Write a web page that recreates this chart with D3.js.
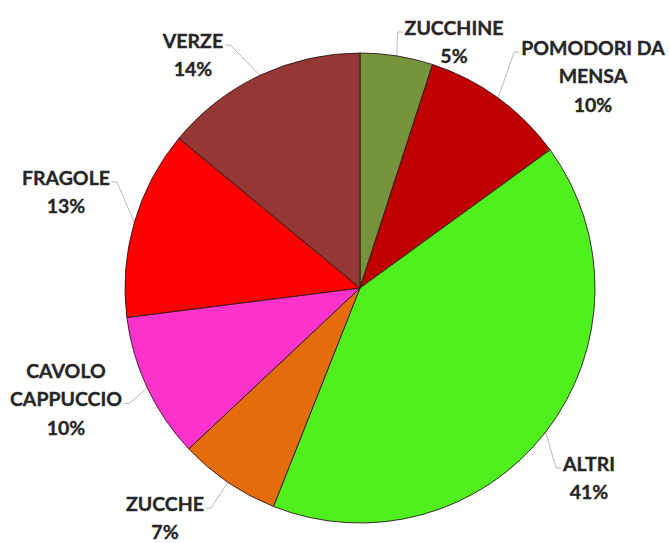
<!DOCTYPE html>
<html>
<head>
<meta charset="utf-8">
<script src="https://cdn.jsdelivr.net/npm/d3@7"></script>
<style>
  html, body { margin: 0; padding: 0; background: #fff; }
  svg { display: block; }
  .lbl { font-family: Lato, "Open Sans", sans-serif; font-weight: 700; font-size: 19.5px; fill: #262626; stroke: #262626; stroke-width: 0.35px; }
</style>
</head>
<body>
<svg id="chart" width="670" height="543"></svg>
<script>
// Crop shares (percent), clockwise from 12 o'clock
const categories = ["ZUCCHINE", "POMODORI DA MENSA", "ALTRI", "ZUCCHE", "CAVOLO CAPPUCCIO", "FRAGOLE", "VERZE"];
const values = [5, 10, 41, 7, 10, 13, 14];
const labelLines = [["ZUCCHINE"], ["POMODORI DA", "MENSA"], ["ALTRI"], ["ZUCCHE"], ["CAVOLO", "CAPPUCCIO"], ["FRAGOLE"], ["VERZE"]];
const sliceColors = ["#77933C", "#C00000", "#50F01E", "#E46C0A", "#FF33CC", "#FF0000", "#953735"];

// Label placement: centre x, first-line y, line the leader attaches to
const labelLayout = [
  { x: 454, y: 27,  attach: 0 },
  { x: 593, y: 47,  attach: 0 },
  { x: 589, y: 463, attach: 0 },
  { x: 165, y: 503, attach: 0 },
  { x: 66,  y: 370, attach: 1 },
  { x: 66,  y: 177, attach: 0 },
  { x: 193, y: 40,  attach: 0 }
];

const cx = 360, cy = 288, radius = 235, lineGap = 28.5;

const svg = d3.select("#chart");
const g = svg.append("g").attr("transform", `translate(${cx},${cy})`);

const pie = d3.pie().sort(null).value(d => d.value);
const arcs = pie(categories.map((c, i) => ({ name: c, value: values[i], i })));
const arc = d3.arc().innerRadius(0).outerRadius(radius);
const edgeArc = d3.arc().innerRadius(radius).outerRadius(radius);

g.selectAll("path.slice")
  .data(arcs)
  .join("path")
  .attr("class", "slice")
  .attr("d", arc)
  .attr("fill", d => sliceColors[d.data.i])
  .attr("stroke", "#2a1a1a")
  .attr("stroke-width", 0.9)
  .attr("stroke-linejoin", "round");

// Labels with name lines and a percentage line
const labels = svg.append("g");
arcs.forEach(d => {
  const i = d.data.i;
  const lay = labelLayout[i];
  const lines = labelLines[i].concat([d3.format(".0f")(d.data.value) + "%"]);
  const tg = labels.append("g");
  const texts = lines.map((t, k) =>
    tg.append("text")
      .attr("class", "lbl")
      .attr("x", lay.x)
      .attr("y", lay.y + k * lineGap)
      .attr("text-anchor", "middle")
      .attr("dominant-baseline", "central")
      .text(t)
  );

  // Leader line from slice edge to the label
  const [ex, ey] = edgeArc.centroid(d);
  const px = cx + ex, py = cy + ey;
  const attachNode = texts[lay.attach].node();
  const w = attachNode.getComputedTextLength();
  const ay = lay.y + lay.attach * lineGap + 5;
  const onRight = lay.x > px;
  const edgeX = onRight ? lay.x - w / 2 - 2 : lay.x + w / 2 + 2;
  const elbowX = onRight ? edgeX - 5 : edgeX + 5;
  svg.insert("polyline", "g")
    .attr("points", [[px, py], [elbowX, ay], [edgeX, ay]].map(p => p.join(",")).join(" "))
    .attr("fill", "none")
    .attr("stroke", "#a6a6a6")
    .attr("stroke-width", 0.8);
});
</script>
</body>
</html>
